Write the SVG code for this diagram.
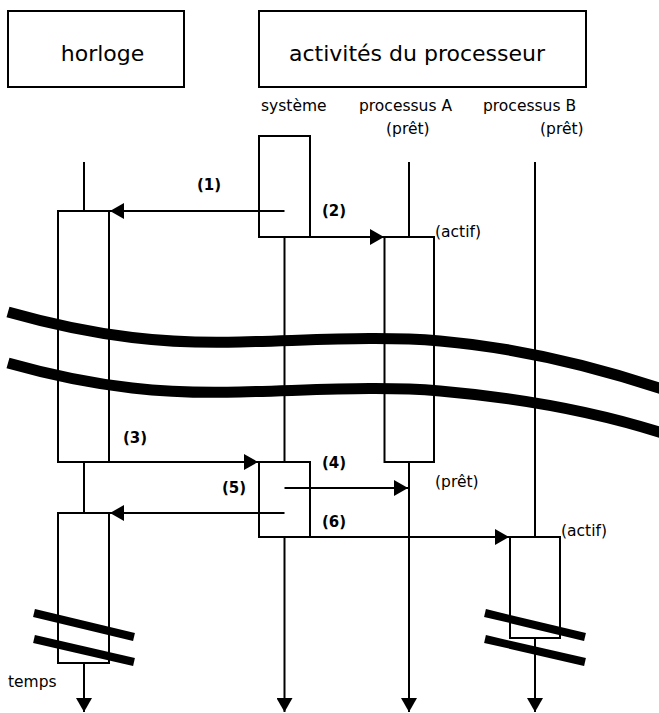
<svg xmlns="http://www.w3.org/2000/svg" width="659" height="713" viewBox="0 0 659 713">
<defs>
<style>
.box{fill:#fff;stroke:#000;stroke-width:2}
.life{stroke:#000;stroke-width:2;fill:none}
.msg{stroke:#000;stroke-width:2;fill:none;marker-end:url(#ah)}
.t{font-family:"DejaVu Sans","Liberation Sans",sans-serif;fill:#000}
.h{font-size:22px;text-anchor:middle}
.s{font-size:15.5px}
.b{font-size:15px;font-weight:bold;text-anchor:middle}
.brk{stroke:#000;stroke-width:11;fill:none}
.mk{stroke:#000;stroke-width:8}
</style>
<marker id="ah" markerWidth="14" markerHeight="16" refX="14" refY="8" orient="auto" markerUnits="userSpaceOnUse">
<path d="M0,0 L14,8 L0,16 z" fill="#000"/>
</marker>
</defs>
<rect width="659" height="713" fill="#fff"/>
<g id="horloge">
<rect class="box" x="8" y="11" width="176" height="76"/>
<text class="t h" x="102.5" y="61">horloge</text>
</g>
<g id="activites">
<rect class="box" x="259" y="11" width="327" height="76"/>
<text class="t h" x="417" y="61">activités du processeur</text>
</g>
<g id="labels">
<text class="t s" x="261" y="111">système</text>
<text class="t s" x="359" y="111">processus A</text>
<text class="t s" x="483" y="111">processus B</text>
<text class="t s" x="386" y="134">(prêt)</text>
<text class="t s" x="540" y="134">(prêt)</text>
<text class="t s" x="435" y="237">(actif)</text>
<text class="t s" x="435" y="487">(prêt)</text>
<text class="t s" x="561" y="536">(actif)</text>
<text class="t s" x="8" y="687">temps</text>
</g>
<g id="lifelines">
<line class="life" x1="84" y1="162" x2="84" y2="211"/>
<line class="life" x1="84" y1="462" x2="84" y2="513"/>
<line class="msg" x1="84" y1="663" x2="84" y2="712"/>
<line class="life" x1="284.5" y1="237" x2="284.5" y2="462"/>
<line class="msg" x1="284.5" y1="537" x2="284.5" y2="712"/>
<line class="life" x1="409" y1="162" x2="409" y2="237"/>
<line class="msg" x1="409" y1="462" x2="409" y2="712"/>
<line class="life" x1="535" y1="162" x2="535" y2="537"/>
<line class="msg" x1="535" y1="638" x2="535" y2="712"/>
</g>
<g id="act-horloge-1"><rect class="box" x="58" y="211" width="51" height="251"/></g>
<g id="act-horloge-2"><rect class="box" x="58" y="513" width="51" height="150"/></g>
<g id="act-systeme-1"><rect class="box" x="259" y="136" width="51" height="101"/></g>
<g id="act-systeme-2"><rect class="box" x="259" y="462" width="51" height="75"/></g>
<g id="act-processusA"><rect class="box" x="384.5" y="237" width="49.5" height="225"/></g>
<g id="act-processusB"><rect class="box" x="510" y="537" width="50" height="101"/></g>
<g id="connectors">
<line class="msg" x1="284.5" y1="211" x2="110" y2="211"/>
<line class="msg" x1="310" y1="237" x2="384" y2="237"/>
<line class="msg" x1="109" y1="462" x2="258" y2="462"/>
<line class="msg" x1="284.5" y1="488" x2="408" y2="488"/>
<line class="msg" x1="284.5" y1="513" x2="110" y2="513"/>
<line class="msg" x1="310" y1="537" x2="509" y2="537"/>
</g>
<g id="msg-labels">
<text class="t b" x="209" y="190">(1)</text>
<text class="t b" x="334" y="216">(2)</text>
<text class="t b" x="135" y="443">(3)</text>
<text class="t b" x="334" y="468">(4)</text>
<text class="t b" x="234" y="493">(5)</text>
<text class="t b" x="334" y="527">(6)</text>
</g>
<g id="breaks">
<path class="brk" d="M8 312 C100 338,170 344,240 342 C320 340,380 336,440 341 C520 348,590 365,662 389"/>
<path class="brk" d="M8 363 C100 389,170 394,240 392 C320 390,380 386,440 391 C520 398,590 410,662 433"/>
<line class="mk" x1="34" y1="613" x2="134" y2="637"/>
<line class="mk" x1="34" y1="639" x2="134" y2="662"/>
<line class="mk" x1="485" y1="613" x2="585" y2="637"/>
<line class="mk" x1="485" y1="639" x2="585" y2="662"/>
</g>
</svg>
